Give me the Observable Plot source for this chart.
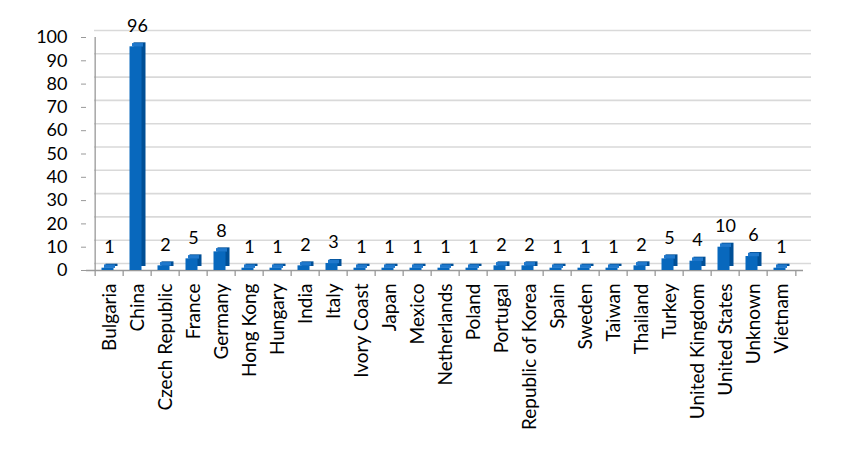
<!DOCTYPE html>
<html><head><meta charset="utf-8">
<script src="https://cdn.jsdelivr.net/npm/d3@7"></script>
<script src="https://cdn.jsdelivr.net/npm/@observablehq/plot@0.6"></script>
<style>body{margin:0;background:#fff}#chart svg{display:block}</style>
</head><body><div id="chart"></div>
<script>
const countries = ["Bulgaria","China","Czech Republic","France","Germany","Hong Kong","Hungary","India","Italy","Ivory Coast","Japan","Mexico","Netherlands","Poland","Portugal","Republic of Korea","Spain","Sweden","Taiwan","Thailand","Turkey","United Kingdom","United States","Unknown","Vietnam"];
const counts = [1,96,2,5,8,1,1,2,3,1,1,1,1,1,2,2,1,1,1,2,5,4,10,6,1];
const yTicks = [0,10,20,30,40,50,60,70,80,90,100];

const data = countries.map((c, i) => ({country: c, count: counts[i]}));
const W = 854, ML = 86, MR = 51;
const step = (W - ML - MR) / countries.length;

const chart = Plot.plot({
  width: W, height: 450,
  marginLeft: ML, marginRight: MR, marginTop: 37, marginBottom: 180,
  style: {fontFamily: "Lato, sans-serif", fontSize: "18px", color: "#000", background: "#fff"},
  x: {domain: countries, padding: 0, label: null},
  y: {domain: [0, 100], label: null},
  marks: [
    Plot.ruleY(yTicks, {stroke: "#d9d9d9", strokeWidth: 1.6, dx: 8, dy: -7}),
    Plot.ruleY([0], {stroke: "#999", strokeWidth: 1.3}),
    Plot.ruleX([countries[0]], {y1: 0, y2: 100, dx: -step / 2, stroke: "#999", strokeWidth: 1.3}),
    Plot.ruleX(countries, {y1: 0, y2: -2.6, dx: -step / 2, stroke: "#999", strokeWidth: 1.3}),
    Plot.ruleX([countries[countries.length - 1]], {y1: 0, y2: -2.6, dx: step / 2, stroke: "#999", strokeWidth: 1.3}),
    Plot.barY(data, {x: "country", y: "count", fill: "#004f96", insetLeft: 8, insetRight: 8, dx: 2.5, dy: -4}),
    Plot.barY(data, {x: "country", y: "count", fill: "#0868bd", insetLeft: 8, insetRight: 8, dx: -1.5}),
    Plot.tickY(data, {x: "country", y: "count", stroke: "#1f78cc", strokeWidth: 3.5, insetLeft: 8.5, insetRight: 8.5, dx: 0.5, dy: -2}),
    Plot.text(data, {x: "country", y: "count", text: d => String(d.count), dy: -21, fill: "#000", fontSize: 18}),
    Plot.axisY({ticks: yTicks, tickSize: 5, tickPadding: 14, stroke: "#999", fontSize: 18}),
    Plot.axisX({tickSize: 0, tickPadding: 13, tickRotate: -90, fontSize: 19})
  ]
});
document.getElementById("chart").appendChild(chart);
</script>
</body></html>
